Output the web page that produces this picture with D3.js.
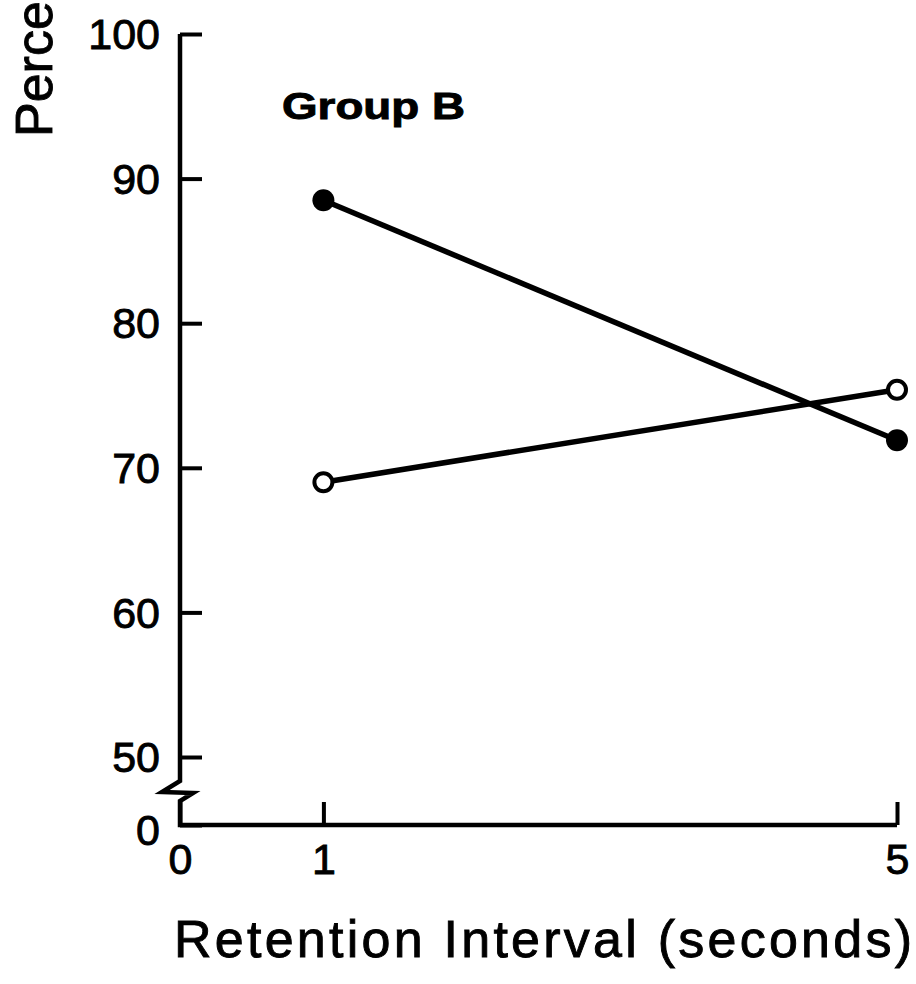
<!DOCTYPE html>
<html>
<head>
<meta charset="utf-8">
<script src="https://cdn.jsdelivr.net/npm/d3@7"></script>
<style>
  html, body { margin: 0; padding: 0; background: #fff; }
  svg { display: block; }
  text { font-family: "Liberation Sans", Arial, Helvetica, sans-serif; fill: #000; }
  .heavy { stroke: #000; stroke-width: 0.9px; }
</style>
</head>
<body>
<div id="chart"></div>
<script>
// data
var intervals = [1, 5];                 // retention interval, seconds
var filledPct = [88.5, 71.9];           // filled circles
var openPct   = [69.0, 75.4];           // open circles
var yTicks = [0, 50, 60, 70, 80, 90, 100];
var xTicks = [0, 1, 5];

var W = 916, H = 984;

var svg = d3.select("#chart").append("svg")
  .attr("width", W).attr("height", H);

svg.append("rect").attr("width", W).attr("height", H).attr("fill", "#fff");

// x is plain linear, y has a break between 0 and 50
var x = d3.scaleLinear().domain([0, 5]).range([180, 897]);
var y = d3.scaleLinear().domain([0, 50, 100]).range([825, 757, 34]);

// axis lines (drawn by hand because of the break)
var bY = y(50);
var axisPath = d3.path();
axisPath.moveTo(x(0), y(100));
axisPath.lineTo(x(0), bY + 24);
axisPath.lineTo(x(0) - 18, bY + 35);
axisPath.lineTo(x(0) + 13, bY + 36);
axisPath.lineTo(x(0), bY + 44);
axisPath.lineTo(x(0), y(0));
axisPath.lineTo(x(5), y(0));

svg.append("path")
  .attr("d", axisPath.toString())
  .attr("fill", "none")
  .attr("stroke", "#000")
  .attr("stroke-width", 4.5)
  .attr("stroke-linejoin", "miter");

// y axis
var yAxis = svg.append("g")
  .attr("transform", "translate(" + x(0) + ",0)")
  .call(d3.axisLeft(y).tickValues(yTicks).tickFormat(d3.format("d"))
    .tickSize(-22).tickPadding(20));
yAxis.select(".domain").remove();
yAxis.selectAll(".tick line").attr("stroke", "#000").attr("stroke-width", 4);
yAxis.selectAll(".tick text")
  .attr("class", "heavy")
  .attr("font-size", 43)
  .attr("dy", function(d){ return d === 0 ? "0.45em" : "0.34em"; });

// x axis
var xAxis = svg.append("g")
  .attr("transform", "translate(0," + y(0) + ")")
  .call(d3.axisBottom(x).tickValues(xTicks).tickFormat(d3.format("d"))
    .tickSize(-23).tickPadding(18));
xAxis.select(".domain").remove();
xAxis.selectAll(".tick line").attr("stroke", "#000").attr("stroke-width", 4);
xAxis.selectAll(".tick text").attr("class", "heavy").attr("font-size", 43);

// series
var line = d3.line()
  .x(function(d){ return x(d[0]); })
  .y(function(d){ return y(d[1]); });

var filled = d3.zip(intervals, filledPct);
var open = d3.zip(intervals, openPct);

[filled, open].forEach(function(s){
  svg.append("path")
    .datum(s)
    .attr("d", line)
    .attr("fill", "none")
    .attr("stroke", "#000")
    .attr("stroke-width", 5.5);
});

svg.selectAll("circle.filled")
  .data(filled)
  .enter().append("circle")
  .attr("class", "filled")
  .attr("cx", function(d){ return x(d[0]); })
  .attr("cy", function(d){ return y(d[1]); })
  .attr("r", 11)
  .attr("fill", "#000");

svg.selectAll("circle.open")
  .data(open)
  .enter().append("circle")
  .attr("class", "open")
  .attr("cx", function(d){ return x(d[0]); })
  .attr("cy", function(d){ return y(d[1]); })
  .attr("r", 9)
  .attr("fill", "#fff")
  .attr("stroke", "#000")
  .attr("stroke-width", 4);

// labels
svg.append("text")
  .attr("class", "heavy")
  .attr("x", 282).attr("y", 119)
  .attr("font-size", 37)
  .attr("font-weight", "bold")
  .attr("textLength", 183)
  .attr("lengthAdjust", "spacingAndGlyphs")
  .text("Group B");

svg.append("text")
  .attr("class", "heavy")
  .attr("x", 174).attr("y", 957)
  .attr("font-size", 52)
  .attr("textLength", 738)
  .attr("lengthAdjust", "spacing")
  .text("Retention Interval (seconds)");

svg.append("text")
  .attr("class", "heavy")
  .attr("transform", "translate(52,137) rotate(-90)")
  .attr("font-size", 52)
  .text("Percent Correct");
</script>
</body>
</html>
